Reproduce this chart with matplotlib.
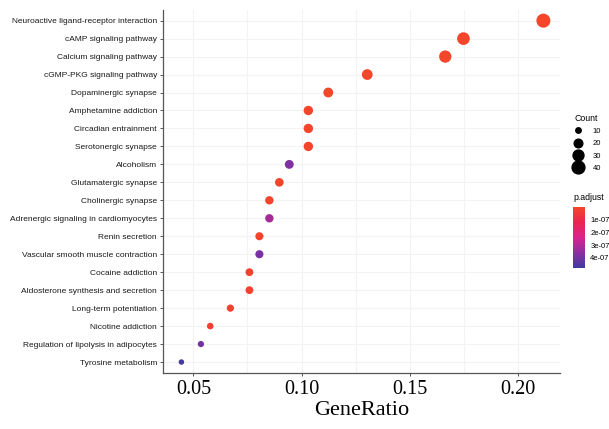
import matplotlib

matplotlib.use("Agg")
import matplotlib.pyplot as plt
from matplotlib.colors import LinearSegmentedColormap, Normalize
from matplotlib.lines import Line2D
from matplotlib.ticker import MultipleLocator

pathways = [
    "Neuroactive ligand-receptor interaction",
    "cAMP signaling pathway",
    "Calcium signaling pathway",
    "cGMP-PKG signaling pathway",
    "Dopaminergic synapse",
    "Amphetamine addiction",
    "Circadian entrainment",
    "Serotonergic synapse",
    "Alcoholism",
    "Glutamatergic synapse",
    "Cholinergic synapse",
    "Adrenergic signaling in cardiomyocytes",
    "Renin secretion",
    "Vascular smooth muscle contraction",
    "Cocaine addiction",
    "Aldosterone synthesis and secretion",
    "Long-term potentiation",
    "Nicotine addiction",
    "Regulation of lipolysis in adipocytes",
    "Tyrosine metabolism",
]
gene_ratio = [0.2116, 0.1747, 0.1663, 0.1303, 0.1123, 0.1031, 0.1031, 0.1031,
              0.0943, 0.0897, 0.0851, 0.0851, 0.0805, 0.0805, 0.0759, 0.0759,
              0.0671, 0.0578, 0.0535, 0.0445]
counts = [47, 39, 37, 29, 25, 23, 23, 23, 21, 20, 19, 19, 18, 18, 17, 17,
          15, 13, 12, 10]
p_adjust = [1e-10, 2e-10, 3e-10, 5e-10, 1e-09, 2e-09, 2e-09, 3e-09,
            3.8e-07, 5e-09, 8e-09, 3.2e-07, 1e-08, 3.9e-07, 1.2e-08, 1.5e-08,
            2e-08, 2.5e-08, 4.0e-07, 4.7e-07]
legend_counts = [10, 20, 30, 40]

cmap = LinearSegmentedColormap.from_list(
    "padj", ["#F4462A", "#EA2450", "#D8238C", "#8C2FA2", "#3E3AA0"]
)
norm = Normalize(vmin=0.0, vmax=4.8e-07)


def marker_area(count):
    # diameter in px grows with sqrt of count (area scale)
    diameter_px = max(-15 + 4.49 * count, 4.0) ** 0.5
    return (diameter_px * 0.72) ** 2


plt.rcParams["font.family"] = ["Liberation Sans", "DejaVu Sans"]
fig = plt.figure(figsize=(6.09, 4.29), dpi=100)
ax = fig.add_axes([0.268, 0.131, 0.652, 0.846])

ypos = list(range(len(pathways)))[::-1]
ax.scatter(
    gene_ratio,
    ypos,
    s=[marker_area(c) for c in counts],
    c=p_adjust,
    cmap=cmap,
    norm=norm,
    edgecolors="none",
    zorder=3,
)

ax.set_xlim(0.0361, 0.2194)
ax.set_ylim(-0.6, len(pathways) - 0.4)
ax.set_yticks(ypos)
ax.set_yticklabels(pathways, fontsize=6.0, color="#1a1a1a")
ax.xaxis.set_major_locator(MultipleLocator(0.05))
ax.xaxis.set_minor_locator(MultipleLocator(0.025))
ax.set_xticks([0.05, 0.10, 0.15, 0.20])
ax.set_xticklabels(["0.05", "0.10", "0.15", "0.20"],
                   fontsize=14.5, family="Liberation Serif")
ax.set_xlabel("GeneRatio", fontsize=16, family="Liberation Serif", labelpad=1)

ax.grid(True, which="both", color="#F3F3F3", linewidth=0.8, zorder=0)
ax.set_axisbelow(True)
for side in ["top", "right"]:
    ax.spines[side].set_visible(False)
for side in ["left", "bottom"]:
    ax.spines[side].set_color("#555555")
    ax.spines[side].set_linewidth(0.9)
ax.tick_params(axis="both", which="major", length=2.5, color="#555555",
               width=0.7, pad=2)
ax.tick_params(axis="x", which="major", pad=3)
ax.tick_params(axis="x", which="minor", length=0)

handles = [
    Line2D([], [], linestyle="none", marker="o", color="black",
           markersize=marker_area(c) ** 0.5)
    for c in legend_counts
]
fig.legend(
    handles,
    [str(c) for c in legend_counts],
    title="Count",
    loc="upper left",
    bbox_to_anchor=(0.932, 0.742),
    frameon=False,
    fontsize=5.5,
    title_fontsize=6.3,
    handletextpad=0.9,
    labelspacing=0.65,
    borderaxespad=0,
)

cax = fig.add_axes([0.941, 0.375, 0.019, 0.142])
cb = fig.colorbar(plt.cm.ScalarMappable(norm=norm, cmap=cmap), cax=cax)
cb.set_ticks([1e-07, 2e-07, 3e-07, 4e-07])
cb.set_ticklabels(["1e-07", "2e-07", "3e-07", "4e-07"])
cb.ax.tick_params(labelsize=5.5, length=2, color="white", pad=2)
cb.ax.invert_yaxis()
cb.outline.set_visible(False)
fig.text(0.941, 0.528, "p.adjust", fontsize=6.3, ha="left", va="bottom")

fig.savefig("out.png", dpi=100)
